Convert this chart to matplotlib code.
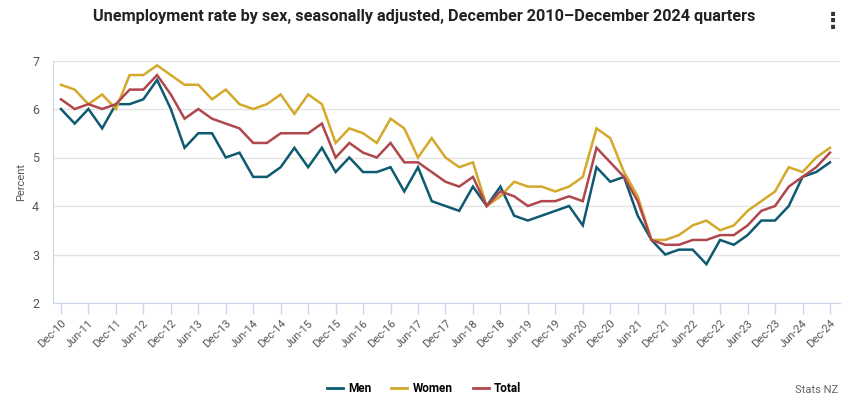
import matplotlib
matplotlib.use("Agg")
import matplotlib.pyplot as plt

years = list(range(2011, 2025))
quarters = ["Dec-10"]
for y in years:
    yy = str(y)[2:]
    quarters += [f"Mar-{yy}", f"Jun-{yy}", f"Sep-{yy}", f"Dec-{yy}"]

men = [6.0, 5.7, 6.0, 5.6, 6.1, 6.1, 6.2, 6.6, 6.0, 5.2, 5.5, 5.5, 5.0, 5.1, 4.6, 4.6, 4.8, 5.2, 4.8, 5.2,
       4.7, 5.0, 4.7, 4.7, 4.8, 4.3, 4.8, 4.1, 4.0, 3.9, 4.4, 4.0, 4.4, 3.8, 3.7, 3.8, 3.9, 4.0,
       3.6, 4.8, 4.5, 4.6, 3.8, 3.3, 3.0, 3.1, 3.1, 2.8, 3.3, 3.2, 3.4, 3.7, 3.7, 4.0, 4.6, 4.7, 4.9]
women = [6.5, 6.4, 6.1, 6.3, 6.0, 6.7, 6.7, 6.9, 6.7, 6.5, 6.5, 6.2, 6.4, 6.1, 6.0, 6.1, 6.3, 5.9, 6.3, 6.1,
         5.3, 5.6, 5.5, 5.3, 5.8, 5.6, 5.0, 5.4, 5.0, 4.8, 4.9, 4.0, 4.2, 4.5, 4.4, 4.4, 4.3, 4.4,
         4.6, 5.6, 5.4, 4.7, 4.2, 3.3, 3.3, 3.4, 3.6, 3.7, 3.5, 3.6, 3.9, 4.1, 4.3, 4.8, 4.7, 5.0, 5.2]
total = [6.2, 6.0, 6.1, 6.0, 6.1, 6.4, 6.4, 6.7, 6.3, 5.8, 6.0, 5.8, 5.7, 5.6, 5.3, 5.3, 5.5, 5.5, 5.5, 5.7,
         5.0, 5.3, 5.1, 5.0, 5.3, 4.9, 4.9, 4.7, 4.5, 4.4, 4.6, 4.0, 4.3, 4.2, 4.0, 4.1, 4.1, 4.2,
         4.1, 5.2, 4.9, 4.6, 4.1, 3.3, 3.2, 3.2, 3.3, 3.3, 3.4, 3.4, 3.6, 3.9, 4.0, 4.4, 4.6, 4.8, 5.1]

series = [("Men", men, "#0e5a70"), ("Women", women, "#d4a82a"), ("Total", total, "#b0474c")]

plt.rcParams['font.family'] = ['Roboto', 'DejaVu Sans']

fig = plt.figure(figsize=(8.48, 4.0), dpi=100)
ax = fig.add_axes([53/848, 1-303/400, (840-53)/848, (303-60.5)/400])

x = list(range(len(quarters)))
for name, vals, col in series:
    ax.plot(x, vals, color=col, lw=1.8, label=name, solid_joinstyle='miter')

ax.set_ylim(2, 7)
ax.set_xlim(-0.58, 56.73)
ax.set_yticks([2, 3, 4, 5, 6, 7])
ax.yaxis.grid(True, color="#e3e3e3", lw=1)
ax.set_axisbelow(True)
ax.tick_params(axis='y', length=0, labelsize=9, colors="#555555", pad=10)
tick_idx = x[::2]
ax.set_xticks(tick_idx)
ax.set_xticklabels([quarters[i] for i in tick_idx], rotation=45, ha='right', rotation_mode='anchor',
                   fontsize=8, color="#555555")
ax.tick_params(axis='x', length=8, color="#ccd6eb", width=1, pad=3)
for s in ['top', 'right']:
    ax.spines[s].set_visible(False)
ax.spines['left'].set_color("#ccd6eb")
ax.spines['bottom'].set_color("#ccd6eb")
ax.set_ylabel("Percent", fontsize=8, color="#555555", labelpad=4)

fig.text(424/848, 1-17/400, "Unemployment rate by sex, seasonally adjusted, December 2010\u2013December 2024 quarters",
         ha='center', va='center', fontsize=11.7, fontweight='bold', color="#222222")
fig.text(833/848, 1-22/400, "\u22ee", ha='center', va='center', fontsize=16, fontweight='bold', color="#333333")

handles = [plt.Line2D([], [], color=c, lw=2) for _, _, c in series]
fig.legend(handles, [n for n, _, _ in series], loc='center', bbox_to_anchor=(424/848, 1-389/400),
           ncol=3, frameon=False, handlelength=1.35, handletextpad=0.45, columnspacing=1.7,
           prop={'weight': 'bold', 'size': 8.5})
fig.text(838/848, 1-390/400, "Stats NZ", ha='right', va='center', fontsize=8, color="#666666")

fig.savefig("out.png", dpi=100)
